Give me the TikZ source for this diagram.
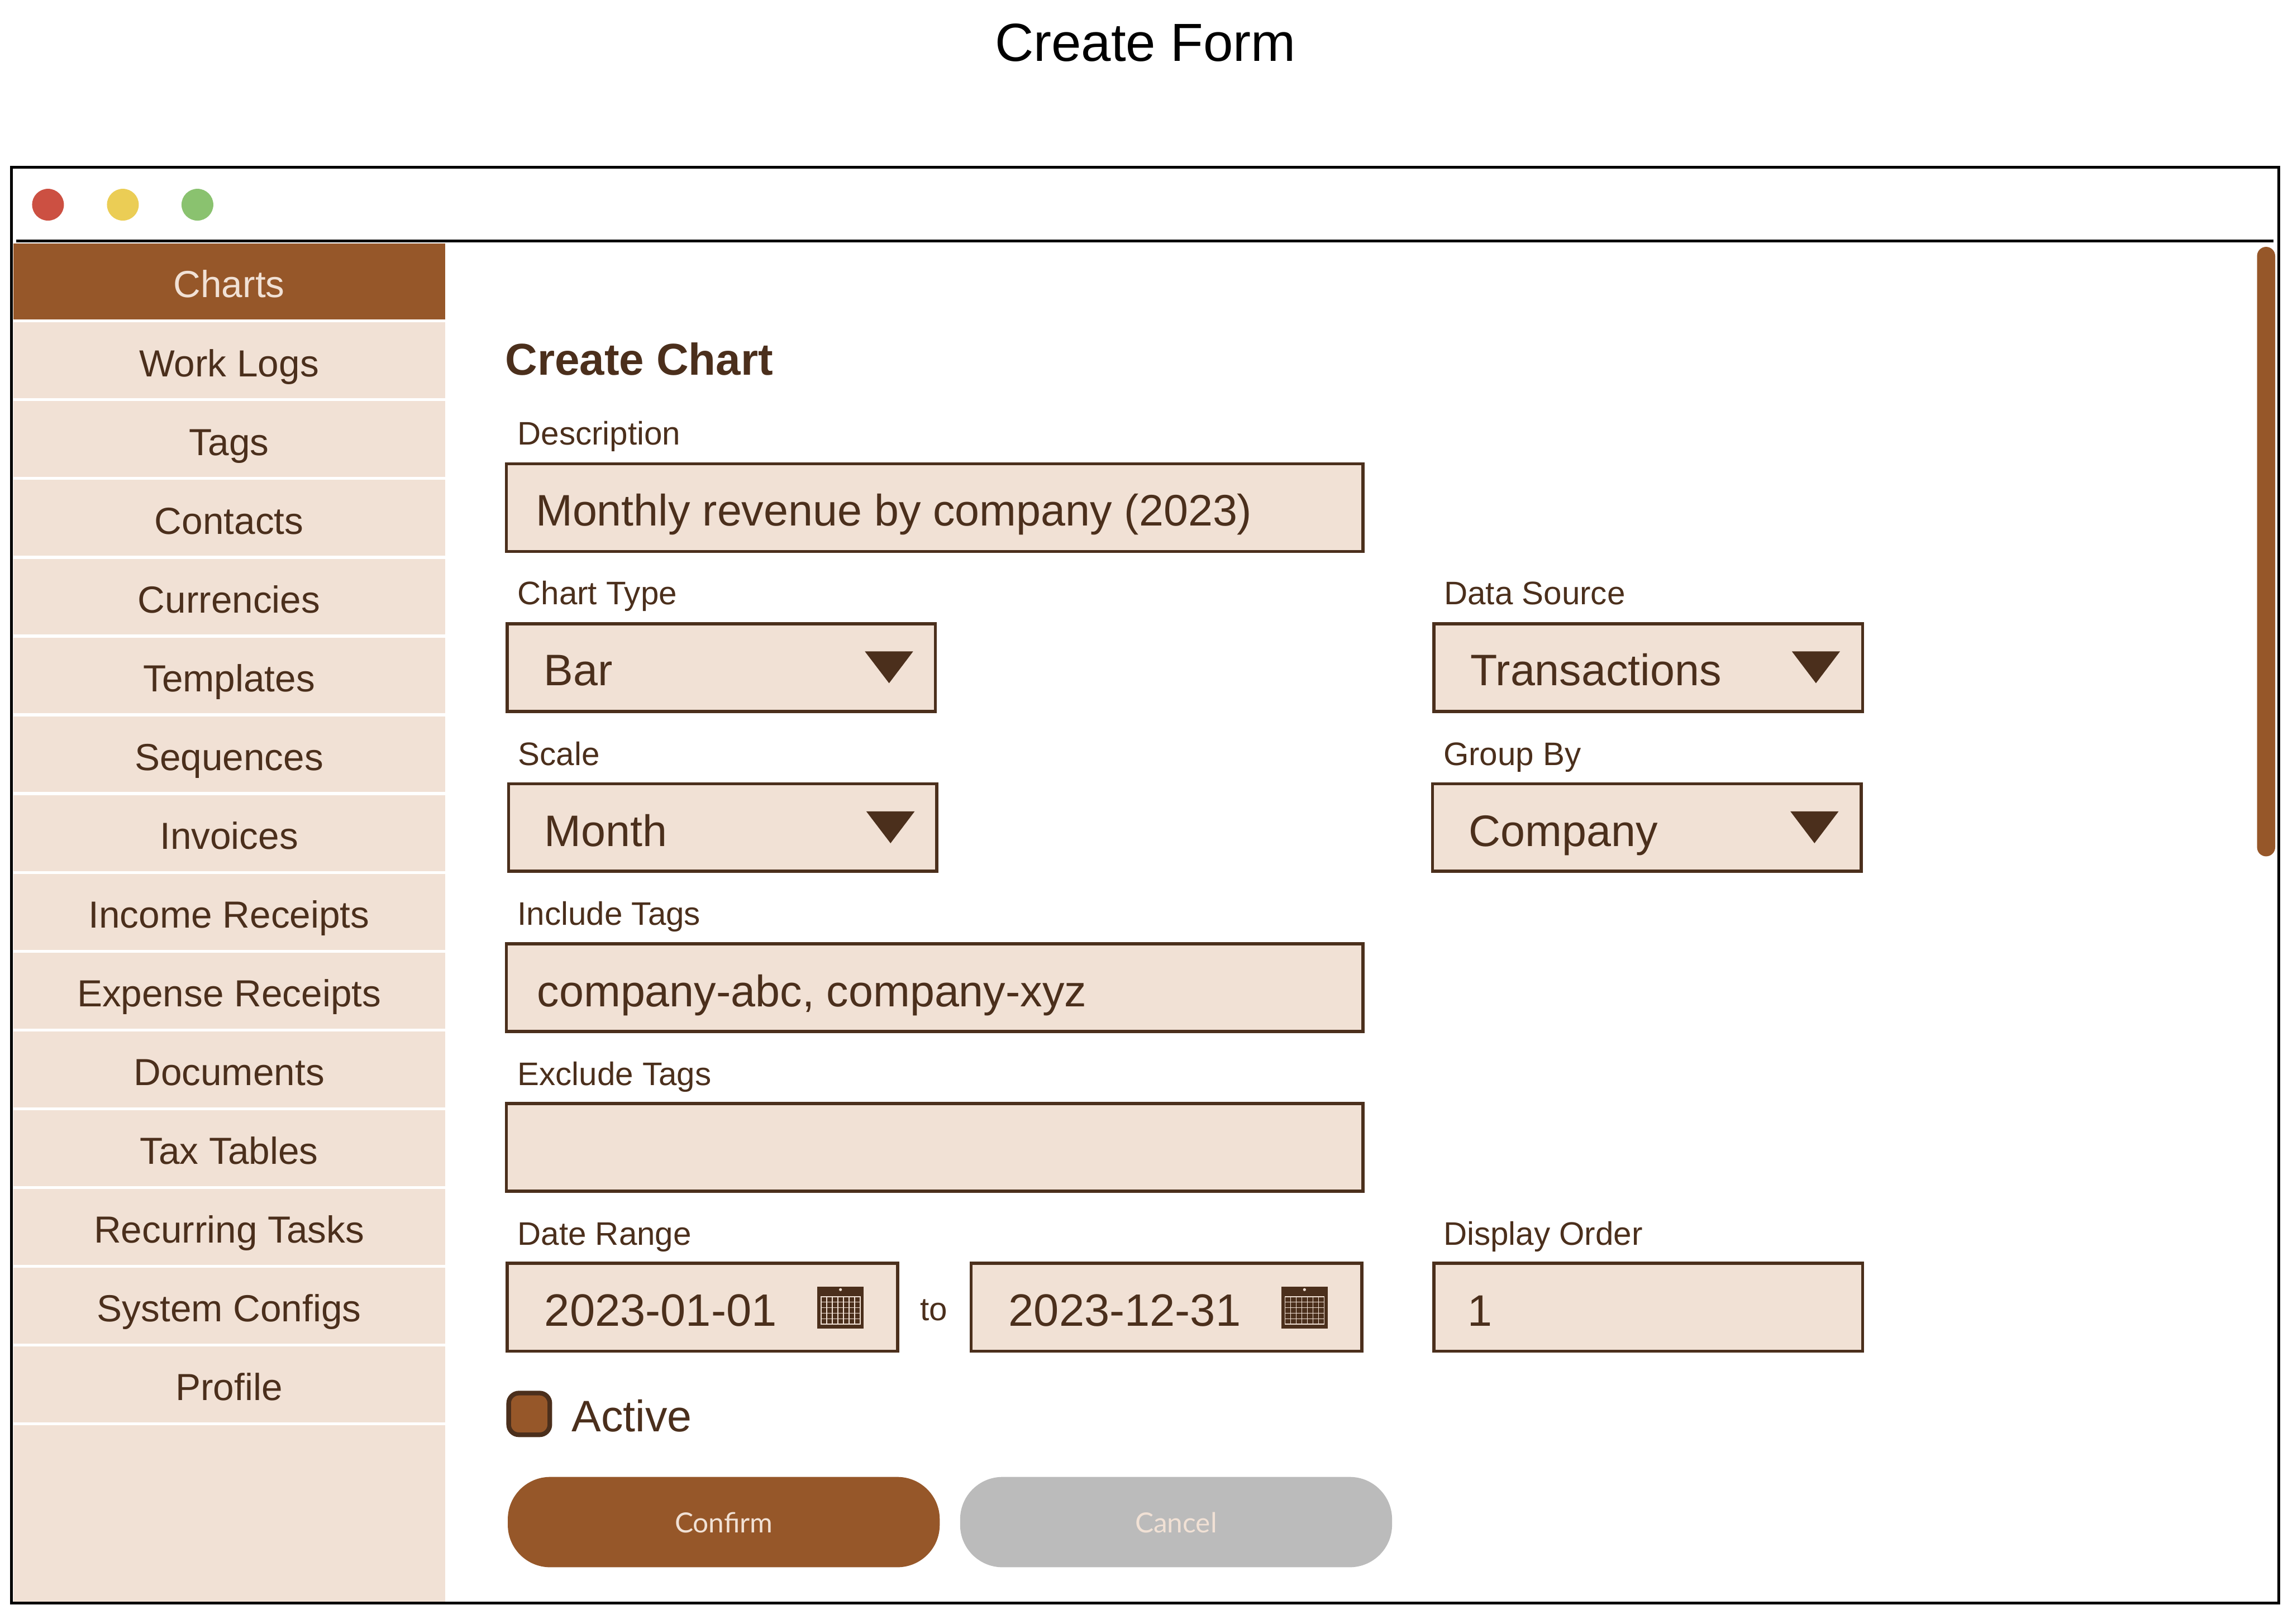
\documentclass[tikz,border=0pt]{standalone}
\usepackage{fontspec}
\setmainfont{Liberation Sans}
\newfontfamily\btnfont{Lato}
\definecolor{barkbrown}{HTML}{965729}
\definecolor{darkbrown}{HTML}{4B2F1C}
\definecolor{tanfill}{HTML}{F1E1D5}
\definecolor{offgrey}{HTML}{BBBBBB}
\tikzset{
  menuitem/.style={anchor=base, inner sep=0pt, text=darkbrown, font=\fontsize{7.35}{9}\selectfont},
  menuactive/.style={menuitem, text=tanfill},
  fieldbox/.style={draw=darkbrown, fill=tanfill, line width=0.6pt},
  fieldlabel/.style={anchor=base west, inner sep=0pt, text=darkbrown, font=\fontsize{6.35}{8}\selectfont},
  fieldvalue/.style={anchor=base west, inner sep=0pt, text=darkbrown, font=\fontsize{8.6}{11}\selectfont},
  datevalue/.style={fieldvalue, font=\fontsize{8.85}{11}\selectfont},
  btntext/.style={anchor=base, inner sep=0pt, text=tanfill, font=\btnfont\fontsize{5.4}{7}\selectfont},
  calendaricon/.pic={
    \fill[darkbrown] (0,0) rectangle (32,28.8);
    \fill[tanfill] (16,2.2) circle (1);
    \draw[tanfill, line width=0.15pt] (2.7,7) rectangle (29.5,25.9);
    \foreach \i in {1,...,6} \draw[tanfill, line width=0.15pt] (2.7+\i*3.83,7) -- (2.7+\i*3.83,25.9);
    \foreach \i in {1,...,4} \draw[tanfill, line width=0.15pt] (2.7,7+\i*3.78) -- (29.5,7+\i*3.78);
  }
}

\begin{document}
\begin{tikzpicture}[x=0.01cm, y=-0.01cm]
\useasboundingbox (0,0) rectangle (1568,1112.9);
\fill[white] (0,0) rectangle (1568,1112.9);

\node[anchor=base, inner sep=0pt, font=\fontsize{10.45}{12}\selectfont] (formTitle) at (785,42) {Create Form};

% Window
\draw[line width=0.55pt] (8,114.6) rectangle (1561.8,1099);
\draw[line width=0.55pt] (11.2,165.3) -- (1558.1,165.3);

% Traffic lights
\fill[fill={rgb,255:red,204;green,80;blue,66}] (32.9,140.3) circle (10.9);
\fill[fill={rgb,255:red,235;green,205;blue,85}] (84.2,140.3) circle (10.9);
\fill[fill={rgb,255:red,138;green,194;blue,111}] (135.3,140.3) circle (10.9);

% Scrollbar
\fill[barkbrown, rounded corners=0.062cm] (1546.8,169.2) rectangle (1559.2,587);

% Sidebar
\fill[barkbrown] (9,167) rectangle (305,219);
\fill[tanfill] (9,221) rectangle (305,273);
\fill[tanfill] (9,275) rectangle (305,327);
\fill[tanfill] (9,329) rectangle (305,381);
\fill[tanfill] (9,383) rectangle (305,435);
\fill[tanfill] (9,437) rectangle (305,489);
\fill[tanfill] (9,491) rectangle (305,543);
\fill[tanfill] (9,545) rectangle (305,597);
\fill[tanfill] (9,599) rectangle (305,651);
\fill[tanfill] (9,653) rectangle (305,705);
\fill[tanfill] (9,707) rectangle (305,759);
\fill[tanfill] (9,761) rectangle (305,813);
\fill[tanfill] (9,815) rectangle (305,867);
\fill[tanfill] (9,869) rectangle (305,921);
\fill[tanfill] (9,923) rectangle (305,975);
\fill[tanfill] (9,977) rectangle (305,1098);

\node[menuactive] (menuCharts) at (157,204) {Charts};
\node[menuitem] (menuWorkLogs) at (157,258) {Work Logs};
\node[menuitem] (menuTags) at (157,312) {Tags};
\node[menuitem] (menuContacts) at (157,366) {Contacts};
\node[menuitem] (menuCurrencies) at (157,420) {Currencies};
\node[menuitem] (menuTemplates) at (157,474) {Templates};
\node[menuitem] (menuSequences) at (157,528) {Sequences};
\node[menuitem] (menuInvoices) at (157,582) {Invoices};
\node[menuitem] (menuIncome) at (157,636) {Income Receipts};
\node[menuitem] (menuExpense) at (157,690) {Expense Receipts};
\node[menuitem] (menuDocuments) at (157,744) {Documents};
\node[menuitem] (menuTaxTables) at (157,798) {Tax Tables};
\node[menuitem] (menuRecurring) at (157,852) {Recurring Tasks};
\node[menuitem] (menuConfigs) at (157,906) {System Configs};
\node[menuitem] (menuProfile) at (157,960) {Profile};

% Form
\node[anchor=base west, inner sep=0pt, text=darkbrown, font=\bfseries\fontsize{8.7}{11}\selectfont] (chartHeading) at (345.5,257) {Create Chart};

\node[fieldlabel] (lblDescription) at (354,305) {Description};
\draw[fieldbox] (347,318) rectangle (934,378);
\node[fieldvalue] (valDescription) at (366.5,360.5) {Monthly revenue by company (2023)};

\node[fieldlabel] (lblChartType) at (354,414.5) {Chart Type};
\draw[fieldbox] (347.6,427.6) rectangle (641,487.6);
\node[fieldvalue] (valChartType) at (372,470) {Bar};
\fill[darkbrown] (592.7,446.5) -- (625.8,446.5) -- (609.3,468.3) -- cycle;

\node[fieldlabel] (lblDataSource) at (989,414.5) {Data Source};
\draw[fieldbox] (982.6,427.6) rectangle (1276.4,487.6);
\node[fieldvalue] (valDataSource) at (1007,470) {Transactions};
\fill[darkbrown] (1228,446.5) -- (1261,446.5) -- (1244.5,468.3) -- cycle;

\node[fieldlabel] (lblScale) at (354.5,524.5) {Scale};
\draw[fieldbox] (348.6,537.2) rectangle (642,597.2);
\node[fieldvalue] (valScale) at (372.5,580) {Month};
\fill[darkbrown] (593.7,556.2) -- (626.8,556.2) -- (610.3,578) -- cycle;

\node[fieldlabel] (lblGroupBy) at (988.5,524.5) {Group By};
\draw[fieldbox] (981.8,537.2) rectangle (1275.6,597.2);
\node[fieldvalue] (valGroupBy) at (1006,580) {Company};
\fill[darkbrown] (1227,556.2) -- (1260,556.2) -- (1243.5,578) -- cycle;

\node[fieldlabel] (lblInclude) at (354,634) {Include Tags};
\draw[fieldbox] (347,647) rectangle (934,707);
\node[fieldvalue] (valInclude) at (367.5,690) {company-abc, company-xyz};

\node[fieldlabel] (lblExclude) at (354,744) {Exclude Tags};
\draw[fieldbox] (347,756.5) rectangle (934,816.5);

\node[fieldlabel] (lblDateRange) at (354,853.5) {Date Range};
\draw[fieldbox] (347.6,866) rectangle (615.2,926.2);
\node[datevalue] (valDateFrom) at (372.5,909) {2023-01-01};
\pic at (560,881.8) {calendaricon};
\node[anchor=base, inner sep=0pt, text=darkbrown, font=\fontsize{6.35}{8}\selectfont] (lblTo) at (640,905) {to};
\draw[fieldbox] (665.6,866) rectangle (933.2,926.2);
\node[datevalue] (valDateTo) at (690.5,909) {2023-12-31};
\pic at (878,881.8) {calendaricon};

\node[fieldlabel] (lblDisplayOrder) at (988.5,853.5) {Display Order};
\draw[fieldbox] (982.6,866) rectangle (1276.4,926.2);
\node[fieldvalue] (valDisplayOrder) at (1005,909) {1};

% Checkbox
\draw[draw=darkbrown, fill=barkbrown, line width=0.9pt, rounded corners=0.07cm] (348.6,954.9) rectangle (376.8,983.5);
\node[fieldvalue] (lblActive) at (391.2,981.5) {Active};

% Buttons
\fill[barkbrown, rounded corners=0.29cm] (348,1012.4) rectangle (644,1074.3);
\node[btntext] (btnConfirm) at (496,1050.5) {Confirm};
\fill[offgrey, rounded corners=0.29cm] (658,1012.4) rectangle (954,1074.3);
\node[btntext] (btnCancel) at (806,1050.5) {Cancel};

\end{tikzpicture}
\end{document}
